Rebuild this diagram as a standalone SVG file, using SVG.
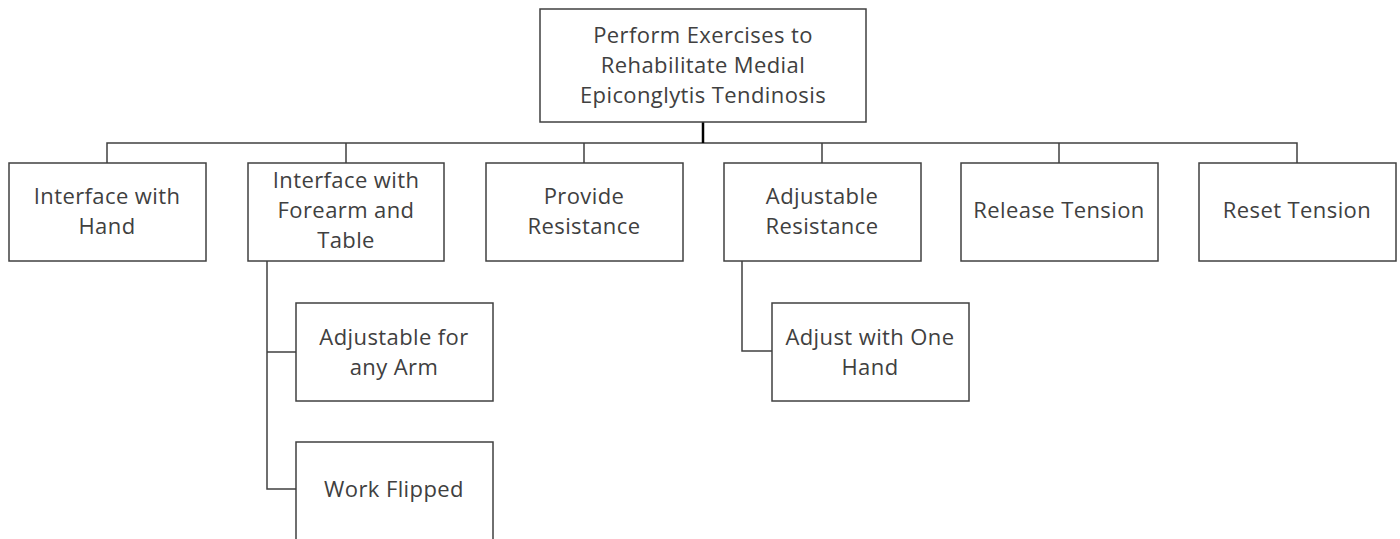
<svg xmlns="http://www.w3.org/2000/svg" width="1400" height="539" viewBox="0 0 1400 539">
<style>
.box{fill:#ffffff;stroke:#404040;stroke-width:1.5}
.lbl{font-family:"Open Sans","Liberation Sans",sans-serif;font-size:22px;letter-spacing:0.4px;fill:#404040;text-anchor:middle}
.con{fill:none;stroke:#404040;stroke-width:1.5}
</style>
<rect width="1400" height="539" fill="#ffffff"/>
<g id="connectors">
<path class="con" d="M107,163 V143 H1297 V163"/>
<path class="con" d="M346,143 V163 M584,143 V163 M822,143 V163 M1059,143 V163"/>
<path d="M703,122 V143" fill="none" stroke="#000000" stroke-width="2.5"/>
<path class="con" d="M267,261 V489 H296 M267,352 H296"/>
<path class="con" d="M742,261 V351 H772"/>
</g>
<g id="root">
<rect class="box" x="540" y="9" width="326" height="113"/>
<text class="lbl" x="703" y="43">Perform Exercises to</text>
<text class="lbl" x="703" y="73">Rehabilitate Medial</text>
<text class="lbl" x="703" y="103">Epiconglytis Tendinosis</text>
</g>
<g id="n1">
<rect class="box" x="9" y="163" width="197" height="98"/>
<text class="lbl" x="107" y="204">Interface with</text>
<text class="lbl" x="107" y="234">Hand</text>
</g>
<g id="n2">
<rect class="box" x="248" y="163" width="196" height="98"/>
<text class="lbl" x="346" y="188">Interface with</text>
<text class="lbl" x="346" y="218">Forearm and</text>
<text class="lbl" x="346" y="248">Table</text>
</g>
<g id="n3">
<rect class="box" x="486" y="163" width="197" height="98"/>
<text class="lbl" x="584" y="204">Provide</text>
<text class="lbl" x="584" y="234">Resistance</text>
</g>
<g id="n4">
<rect class="box" x="724" y="163" width="197" height="98"/>
<text class="lbl" x="822" y="204">Adjustable</text>
<text class="lbl" x="822" y="234">Resistance</text>
</g>
<g id="n5">
<rect class="box" x="961" y="163" width="197" height="98"/>
<text class="lbl" x="1059" y="218">Release Tension</text>
</g>
<g id="n6">
<rect class="box" x="1199" y="163" width="197" height="98"/>
<text class="lbl" x="1297" y="218">Reset Tension</text>
</g>
<g id="n2a">
<rect class="box" x="296" y="303" width="197" height="98"/>
<text class="lbl" x="394" y="345">Adjustable for</text>
<text class="lbl" x="394" y="375">any Arm</text>
</g>
<g id="n2b">
<rect class="box" x="296" y="442" width="197" height="98"/>
<text class="lbl" x="394" y="497">Work Flipped</text>
</g>
<g id="n4a">
<rect class="box" x="772" y="303" width="197" height="98"/>
<text class="lbl" x="870" y="345">Adjust with One</text>
<text class="lbl" x="870" y="375">Hand</text>
</g>
</svg>
